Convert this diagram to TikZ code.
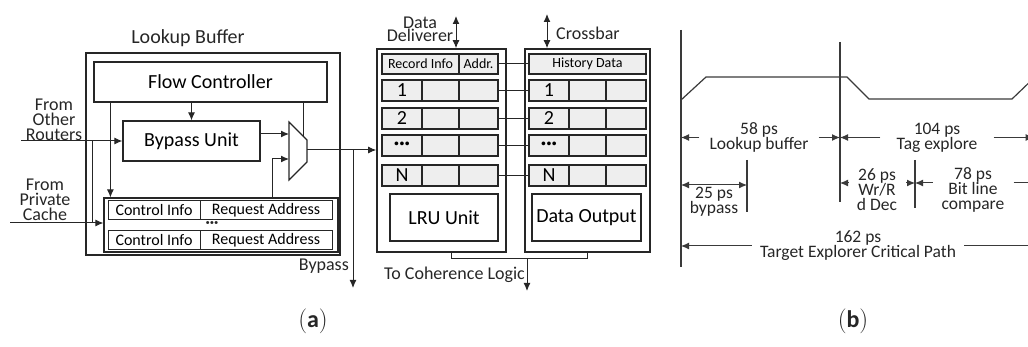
\documentclass[tikz,border=0pt]{standalone}
\usepackage{fontspec}
\setmainfont{Carlito}
\usetikzlibrary{arrows.meta,calc}

\definecolor{ink}{HTML}{262626}
\definecolor{cellgray}{HTML}{EEEEEE}
\definecolor{wire}{HTML}{3A3A3A}

\newcommand{\bigfont}{\fontsize{20}{22}\selectfont}
\newcommand{\midfont}{\fontsize{18}{15}\selectfont}
\newcommand{\smallfont}{\fontsize{16}{18}\selectfont}
\newcommand{\cellfont}{\fontsize{14}{16}\selectfont}
\newcommand{\dimfont}{\fontsize{17.5}{15}\selectfont}

\tikzset{
  box/.style={draw=ink, line width=1.4pt, inner sep=0pt, font=\bigfont},
  cell/.style={draw=ink, line width=1.2pt, fill=cellgray, inner sep=0pt, minimum height=21, font=\bigfont},
  reqcell/.style={draw=ink, line width=1pt, inner sep=0pt, minimum height=19, font=\smallfont},
  lbl/.style={inner sep=0pt, text=ink, align=center},
  tip/.style={draw=ink, line width=1pt, -{Latex[length=8pt,width=7pt]}},
  dtip/.style={draw=ink, line width=1pt, {Latex[length=8pt,width=7pt]}-{Latex[length=8pt,width=7pt]}},
  wireline/.style={draw=wire, line width=1.2pt},
  dimarrow/.style={draw=wire, line width=1pt, -{Latex[length=8pt,width=7pt]}},
}

\begin{document}
\begin{tikzpicture}[x=1pt,y=-1pt]
\useasboundingbox (0,0) rectangle (1028,347);
\clip (0,0) rectangle (1028,347);

% (a) lookup buffer
\node[lbl, font=\bigfont] (lbtitle) at (188,38) {Lookup Buffer};
\node[box, line width=1.8pt, minimum width=254, minimum height=202] (lb) at (213,154) {};
\node[box, minimum width=233, minimum height=40] (fc) at (210.5,82) {Flow Controller};
\node[box, minimum width=137, minimum height=40] (bu) at (191.5,141) {Bypass Unit};

\node[box, line width=1.2pt, minimum width=234, minimum height=54] (rb) at (221,225) {};
\node[reqcell, minimum width=92] (ci1) at (154,210.5) {Control Info};
\node[reqcell, minimum width=132] (ra1) at (266,210.5) {Request Address};
\node[lbl, font=\smallfont\bfseries] (rdots) at (212,225) {···};
\node[reqcell, minimum width=92] (ci2) at (154,240.5) {Control Info};
\node[reqcell, minimum width=132] (ra2) at (266,240.5) {Request Address};

\coordinate (mtl) at (289,122);
\coordinate (mtr) at (307,140);
\coordinate (mbr) at (307,162);
\coordinate (mbl) at (289,180);
\draw[draw=ink, line width=1.2pt] (mtl) -- (mtr) -- (mbr) -- (mbl) -- cycle;
\coordinate (min1) at (289,134);
\coordinate (min2) at (289,159);
\coordinate (mout) at (307,150);
\coordinate (msel) at ($(mtl)!0.78!(mtr)$);

\coordinate (ctl) at ([xshift=7]rb.north west);
\coordinate (rbup) at ([xshift=-66]rb.north east);
\draw[tip] (fc.south -| bu.north) -- (bu.north);
\draw[tip] (fc.south -| ctl) -- (ctl);
\draw[draw=ink, line width=1pt] (fc.south -| msel) -- (msel);
\draw[tip] (bu.east |- min1) -- (min1);
\draw[tip] (rbup) |- (min2);

\node[lbl, font=\midfont] (routers) at (54,119.5) {From\\Other\\Routers};
\node[lbl, font=\midfont] (pcache) at (45,200) {From\\Private\\Cache};
\coordinate (rin) at (21,141);
\coordinate (cin) at (10,223);
\coordinate (join) at (92,141);
\draw[tip] (rin) -- (bu.west);
\draw[tip] (cin) -- (cin -| rb.west);
\draw[draw=ink, line width=1pt] (join) -- (join |- cin);

% data deliverer and crossbar
\node[box, line width=1.6pt, minimum width=129, minimum height=203] (dd) at (441.5,150.5) {};
\node[box, line width=1.6pt, minimum width=125, minimum height=203] (cb) at (587.5,150.5) {};

\node[cell, minimum width=77, minimum height=20, font=\cellfont] (L0a) at (420.5,64) {Record Info};
\node[cell, minimum width=39, minimum height=20, font=\cellfont] (L0c) at (478.5,64) {Addr.};
\node[cell, minimum width=117, minimum height=20, font=\cellfont] (R0a) at (587.5,64) {History Data};
\draw[draw=ink, line width=1pt] (L0c.east) -- (R0a.west);

\foreach \y/\t/\n in {90.5/1/1, 118.5/2/2, 145.5/{\textbf{···}}/3, 175.5/N/4}{
  \node[cell, minimum width=40] (L\n a) at (402,\y) {\t};
  \node[cell, minimum width=37] (L\n b) at (440.5,\y) {};
  \node[cell, minimum width=39] (L\n c) at (478.5,\y) {};
  \node[cell, minimum width=40] (R\n a) at (549,\y) {\t};
  \node[cell, minimum width=37] (R\n b) at (587.5,\y) {};
  \node[cell, minimum width=40] (R\n c) at (626,\y) {};
  \draw[draw=ink, line width=1pt] (L\n c.east) -- (R\n a.west);
}

\node[box, minimum width=108, minimum height=47] (lru) at (444,217.5) {LRU Unit};
\node[box, minimum width=109, minimum height=47] (dout) at (586.5,217.5) {Data Output};

\draw[tip] (mout) -- (mout -| dd.west);
\coordinate (bsplit) at (353,150);
\coordinate (bout) at (353,288);
\draw[tip] (bsplit) -- (bout);
\node[lbl, font=\midfont, anchor=east] (bypass) at (349,266) {Bypass};

\coordinate (ddtop) at (456,16);
\coordinate (cbtop) at (547,14);
\draw[dtip] (ddtop) -- (ddtop |- dd.north);
\draw[dtip] (cbtop) -- (cbtop |- cb.north);
\node[lbl, font=\fontsize{18}{13.5}\selectfont] (ddlbl) at (420,29.5) {Data\\Deliverer};
\node[lbl, font=\midfont, anchor=west] (cblbl) at (556,33) {Crossbar};

\coordinate (tapl) at (451,259);
\coordinate (tapr) at (587,259);
\coordinate (cohout) at (527,291);
\draw[draw=ink, line width=1pt] (tapl |- dd.south) -- (tapl) -- (tapr) -- (tapr |- cb.south);
\draw[tip] (cohout |- tapl) -- (cohout);
\node[lbl, font=\midfont, anchor=east] (coh) at (525,275) {To Coherence Logic};

\node[lbl, font=\fontsize{24}{24}\selectfont] (capa) at (313,321) {$(\mathbf{a})$};

% (b) timing
\begin{scope}[xshift=681pt]
\coordinate (v0) at (0,30);
\coordinate (v1) at (159,42);
\coordinate (v2) at (66,160);
\coordinate (v3) at (234,160);
\draw[wireline] (v0) -- (0,267);
\draw[wireline] (v1) -- (159,202);
\draw[wireline] (v2) -- (66,212);
\draw[wireline] (v3) -- (234,208);
\draw[wireline] (0,100) -- (25,77) -- (166,77) -- (188,99) -- (331,99) -- (355,76);

\node[lbl, font=\dimfont, inner xsep=10] (t58) at (78,137.5) {58 ps\\Lookup buffer};
\draw[dimarrow] (t58.west) -- (t58.west -| v0);
\draw[dimarrow] (t58.east) -- (t58.east -| v1);

\node[lbl, font=\dimfont, inner xsep=16] (t104) at (256,137.5) {104 ps\\Tag explore};
\draw[dimarrow] (t104.west) -- (t104.west -| v1);
\draw[dimarrow] (t104.east) -- ++(40,0);

\node[lbl, font=\dimfont] (t25) at (33,202) {25 ps\\bypass};
\coordinate (d25) at (0,185);
\draw[dimarrow, {Latex[length=8pt,width=7pt]}-{Latex[length=8pt,width=7pt]}] (d25) -- (d25 -| v2);

\node[lbl, font=\dimfont, inner xsep=9] (t26) at (196,190) {26 ps\\Wr/R\\d Dec};
\coordinate (d26) at (0,183);
\draw[dimarrow] (t26.west |- d26) -- (d26 -| v1);
\draw[dimarrow] (t26.east |- d26) -- (d26 -| v3);

\node[lbl, font=\dimfont, inner xsep=9] (t78) at (292,190) {78 ps\\Bit line\\compare};
\draw[dimarrow] (t78.west |- d26) -- (d26 -| v3);
\draw[dimarrow] (t78.east |- d26) -- ++(40,0);

\node[lbl, font=\dimfont, inner xsep=8] (t162) at (177,246) {162 ps\\Target Explorer Critical Path};
\draw[dimarrow] (t162.west) -- (t162.west -| v0);
\draw[dimarrow] (t162.east) -- ++(80,0);
\end{scope}

\node[lbl, font=\fontsize{24}{24}\selectfont] (capb) at (853,321) {$(\mathbf{b})$};
\end{tikzpicture}
\end{document}
